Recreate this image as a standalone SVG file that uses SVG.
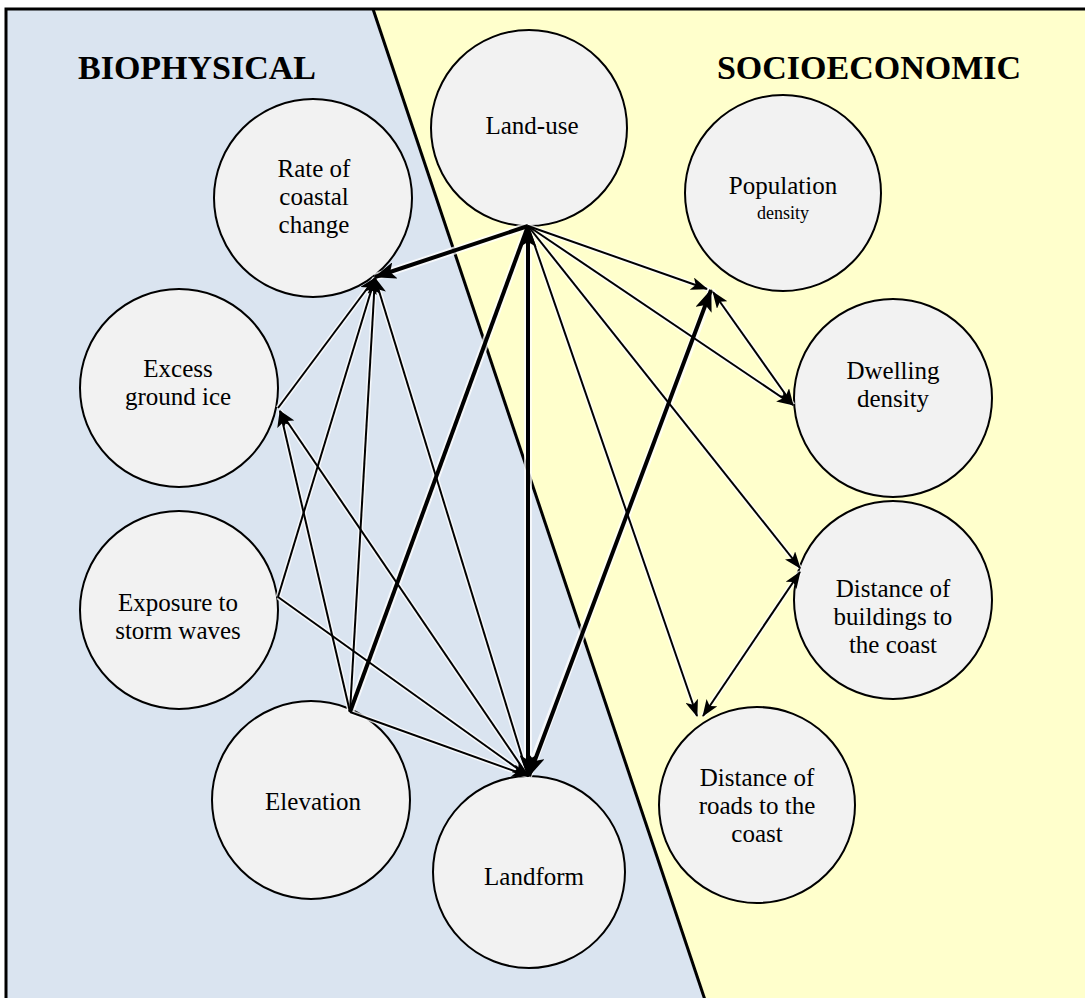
<svg xmlns="http://www.w3.org/2000/svg" width="1085" height="998" viewBox="0 0 1085 998">
<style>
.node circle{fill:#f2f2f2;stroke:#000;stroke-width:2}
text{fill:#000;text-anchor:middle}
.node text{font-size:25px}
.title{font-size:34px;font-weight:bold}
.halo{stroke:#fff;stroke-opacity:0.75;fill:none}
.thin{stroke:#000;stroke-width:2;fill:none}
.thick{stroke:#000;stroke-width:4;fill:none}
</style>
<defs>
<marker id="a" markerUnits="userSpaceOnUse" markerWidth="17" markerHeight="13" refX="16" refY="6.5" orient="auto-start-reverse">
<path d="M0,0 L17,6.5 L0,13 L4,6.5 z" fill="#000"/>
</marker>
<marker id="A" markerUnits="userSpaceOnUse" markerWidth="22" markerHeight="17" refX="21" refY="8.5" orient="auto-start-reverse">
<path d="M0,0 L22,8.5 L0,17 L5,8.5 z" fill="#000"/>
</marker>
</defs>
<g id="background" font-family="Liberation Serif, Times New Roman, serif">
<polygon points="6,9 373,9 704,1000 6,1000" fill="#dae4f0"/>
<polygon points="373,9 1090,9 1090,1000 704,1000" fill="#ffffcc"/>
<line x1="373" y1="9" x2="705" y2="1000" stroke="#000" stroke-width="3"/>
<rect x="6" y="9" width="1090" height="1000" fill="none" stroke="#000" stroke-width="3"/>
<text class="title" x="197" y="79">BIOPHYSICAL</text>
<text class="title" x="869" y="79">SOCIOECONOMIC</text>
</g>
<g id="nodes" font-family="Liberation Serif, Times New Roman, serif">
<g id="landuse" class="node"><circle cx="529" cy="128" r="98"/><text x="532" y="134">Land-use</text></g>
<g id="rate" class="node"><circle cx="313" cy="198" r="99"/><text x="314" y="177">Rate of</text><text x="314" y="205">coastal</text><text x="314" y="233">change</text></g>
<g id="ice" class="node"><circle cx="179" cy="388" r="99"/><text x="178" y="377">Excess</text><text x="178" y="405">ground ice</text></g>
<g id="storm" class="node"><circle cx="179" cy="610" r="99"/><text x="178" y="611">Exposure to</text><text x="178" y="639">storm waves</text></g>
<g id="elevation" class="node"><circle cx="311" cy="800" r="99"/><text x="313" y="810">Elevation</text></g>
<g id="landform" class="node"><circle cx="529" cy="872" r="96"/><text x="534" y="885">Landform</text></g>
<g id="population" class="node"><circle cx="783" cy="193" r="98"/><text x="783" y="194">Population</text><text x="783" y="219" style="font-size:18px">density</text></g>
<g id="dwelling" class="node"><circle cx="893" cy="398" r="99"/><text x="893" y="379">Dwelling</text><text x="893" y="407">density</text></g>
<g id="buildings" class="node"><circle cx="893" cy="600" r="99"/><text x="893" y="597">Distance of</text><text x="893" y="625">buildings to</text><text x="893" y="653">the coast</text></g>
<g id="roads" class="node"><circle cx="757" cy="805" r="98"/><text x="757" y="786">Distance of</text><text x="757" y="814">roads to the</text><text x="757" y="842">coast</text></g>
</g>
<g id="connectors">
<g class="halo" stroke-width="5">
<path d="M278,408 L375,278 M278,597 L375,278 M350,712 L375,278 M528,776 L375,278 M350,712 L280,411 M528,776 L280,411 M278,597 L528,776 M350,712 L528,776 M528,226 L710,290 M528,226 L793,405 M528,226 L800,568 M528,226 L697,716 M712,290 L793,405 M800,572 L703,716"/>
</g>
<g class="halo" stroke-width="8">
<path d="M528,226 L375,277 M528,226 L528,776 M350,712 L528,226 M712,290 L528,776"/>
</g>
<line class="thin" x1="278" y1="408" x2="375" y2="278" marker-end="url(#a)"/>
<line class="thin" x1="278" y1="597" x2="375" y2="278" marker-end="url(#a)"/>
<line class="thin" x1="350" y1="712" x2="375" y2="278" marker-end="url(#a)"/>
<line class="thin" x1="528" y1="776" x2="375" y2="278" marker-end="url(#a)"/>
<line class="thin" x1="350" y1="712" x2="280" y2="411" marker-end="url(#a)"/>
<line class="thin" x1="528" y1="776" x2="280" y2="411" marker-end="url(#a)"/>
<line class="thin" x1="278" y1="597" x2="528" y2="776" marker-end="url(#a)"/>
<line class="thin" x1="350" y1="712" x2="528" y2="776" marker-end="url(#a)"/>
<line class="thin" x1="528" y1="226" x2="707" y2="289" marker-end="url(#a)"/>
<line class="thin" x1="528" y1="226" x2="793" y2="405" marker-end="url(#a)"/>
<line class="thin" x1="528" y1="226" x2="800" y2="568" marker-end="url(#a)"/>
<line class="thin" x1="528" y1="226" x2="697" y2="716" marker-end="url(#a)"/>
<line class="thin" x1="713" y1="292" x2="793" y2="405" marker-start="url(#a)" marker-end="url(#a)"/>
<line class="thin" x1="800" y1="572" x2="703" y2="716" marker-start="url(#a)" marker-end="url(#a)"/>
<line class="thick" x1="528" y1="226" x2="375" y2="277" marker-end="url(#A)"/>
<line class="thick" x1="528" y1="226" x2="528" y2="776" marker-start="url(#A)" marker-end="url(#A)"/>
<line class="thick" x1="350" y1="712" x2="528" y2="226"/>
<line class="thick" x1="711" y1="290" x2="529" y2="776" marker-start="url(#A)" marker-end="url(#A)"/>
</g>
</svg>
